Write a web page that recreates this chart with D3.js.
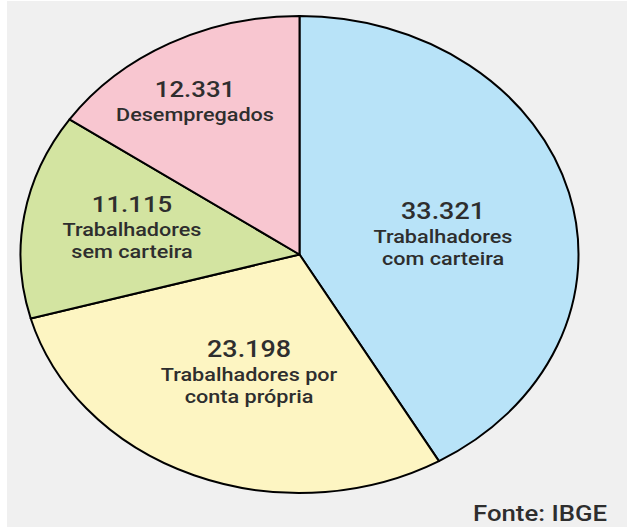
<!DOCTYPE html>
<html lang="pt">
<head>
<meta charset="utf-8"/>
<title>Pie chart - IBGE</title>
<script src="https://d3js.org/d3.v7.min.js"></script>
<style>
  body { margin: 0; background: #ffffff; }
  text { font-family: Roboto, "Noto Sans", sans-serif; fill: #2e2e2e; font-weight: 500; }
</style>
</head>
<body>
<div id="chart"></div>
<script>
// data (milhares)
var numbers = ["33.321", "23.198", "11.115", "12.331"];
var values = [33.321, 23.198, 11.115, 12.331];
var labels = [
    ["Trabalhadores", "com carteira"],
    ["Trabalhadores por", "conta própria"],
    ["Trabalhadores", "sem carteira"],
    ["Desempregados"]
];
var colors = ["#b8e3f8", "#fdf5c2", "#d3e4a1", "#f8c6d0"];

// layout
var w = 627, h = 527;
var cx = 299.5, cy = 254.5;
var rx = 279, ry = 238.5;
var sx = rx / ry; // the picture is stretched sideways
// label anchors (center x, baseline of number) in page pixels
var labelAnchor = [[443, 219], [249, 357], [132, 212], [195, 97]];

var svg = d3.select("#chart")
            .append("svg")
            .attr("width", w)
            .attr("height", h);

svg.append("rect")
    .attr("x", 7).attr("y", 1)
    .attr("width", w - 7).attr("height", h - 1)
    .attr("fill", "#f0f0f0");

var stretch = svg.append("g")
                 .attr("transform", "scale(" + sx + ",1)");

var pie = d3.pie().sort(null).value(function (d) { return d; });
var arc = d3.arc().innerRadius(0).outerRadius(ry);

var pieG = stretch.append("g")
                  .attr("transform", "translate(" + (cx / sx) + "," + cy + ")");

pieG.selectAll("path")
    .data(pie(values))
    .enter()
    .append("path")
    .attr("d", arc)
    .attr("fill", function (d, i) { return colors[i]; })
    .attr("stroke", "#000")
    .attr("stroke-width", 2)
    .attr("stroke-linejoin", "round")
    .attr("vector-effect", "non-scaling-stroke");

// labels
var lab = stretch.selectAll("g.lab")
                 .data(values)
                 .enter()
                 .append("g")
                 .attr("class", "lab")
                 .attr("transform", function (d, i) {
                     return "translate(" + (labelAnchor[i][0] / sx) + "," + labelAnchor[i][1] + ")";
                 });

lab.append("text")
    .attr("text-anchor", "middle")
    .style("font-size", function (d) { return d > 20 ? "23px" : "22px"; })
    .text(function (d, i) { return numbers[i]; });

lab.each(function (d, i) {
    var g = d3.select(this);
    labels[i].forEach(function (s, j) {
        g.append("text")
         .attr("text-anchor", "middle")
         .attr("y", 24 + j * 22.5)
         .style("font-size", "18.5px")
         .text(s);
    });
});

stretch.append("text")
    .attr("x", 607 / sx)
    .attr("y", 521)
    .attr("text-anchor", "end")
    .style("font-size", "22px")
    .text("Fonte: IBGE");
</script>
</body>
</html>
